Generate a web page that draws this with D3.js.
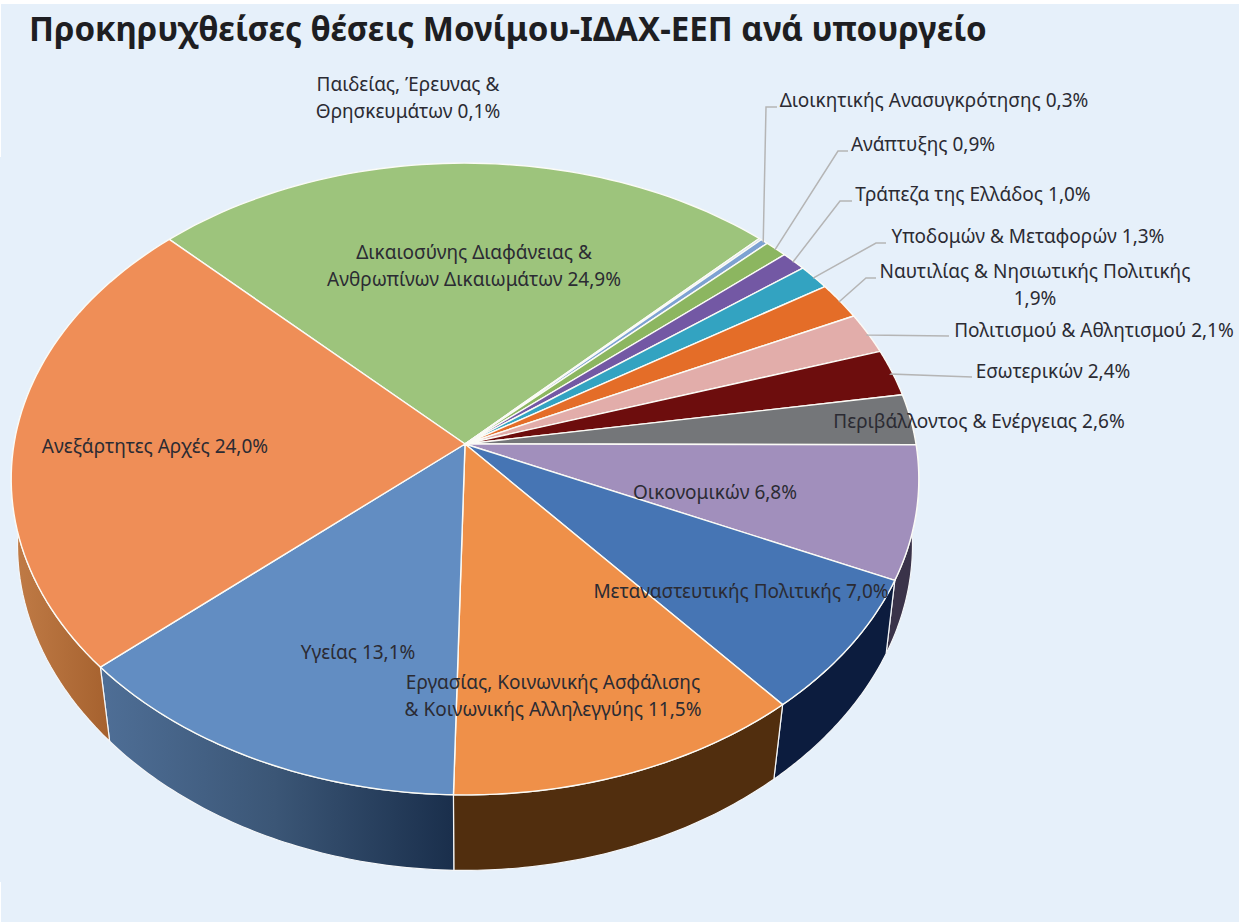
<!DOCTYPE html>
<html lang="el"><head><meta charset="utf-8">
<script src="https://cdnjs.cloudflare.com/ajax/libs/d3/7.8.5/d3.min.js"></script>
<style>html,body{margin:0;padding:0;background:#fff}svg{display:block}
text{font-family:"Noto Sans","Open Sans",sans-serif;fill:#2b2b33}</style></head><body>
<svg id="c" width="1239" height="922"></svg>
<script>
const titleText = "Προκηρυχθείσες θέσεις Μονίμου-ΙΔΑΧ-ΕΕΠ ανά υπουργείο";
const categories = ["Δικαιοσύνης Διαφάνειας & Ανθρωπίνων Δικαιωμάτων","Παιδείας, Έρευνας & Θρησκευμάτων","Διοικητικής Ανασυγκρότησης","Ανάπτυξης","Τράπεζα της Ελλάδος","Υποδομών & Μεταφορών","Ναυτιλίας & Νησιωτικής Πολιτικής","Πολιτισμού & Αθλητισμού","Εσωτερικών","Περιβάλλοντος & Ενέργειας","Οικονομικών","Μεταναστευτικής Πολιτικής","Εργασίας, Κοινωνικής Ασφάλισης & Κοινωνικής Αλληλεγγύης","Υγείας","Ανεξάρτητες Αρχές"];
const values = [24.9,0.1,0.3,0.9,1.0,1.3,1.9,2.1,2.4,2.6,6.8,7.0,11.5,13.1,24.0];
const topColors = ["#9dc47c","#d5dce8","#7da2d2","#8cb660","#7358a4","#33a3c1","#e46d28","#e2adaa","#6d0d0d","#747679","#a18fbc","#4675b4","#ef9049","#628dc2","#ef8e57"];
const wallColors = {10:"#3a3349",11:"#0c1c3e",12:"#512e0e"};
const labelLines = [["Δικαιοσύνης Διαφάνειας &","Ανθρωπίνων Δικαιωμάτων 24,9%"],["Παιδείας, Έρευνας &","Θρησκευμάτων 0,1%"],["Διοικητικής Ανασυγκρότησης 0,3%"],["Ανάπτυξης 0,9%"],["Τράπεζα της Ελλάδος 1,0%"],["Υποδομών & Μεταφορών 1,3%"],["Ναυτιλίας & Νησιωτικής Πολιτικής","1,9%"],["Πολιτισμού & Αθλητισμού 2,1%"],["Εσωτερικών 2,4%"],["Περιβάλλοντος & Ενέργειας 2,6%"],["Οικονομικών 6,8%"],["Μεταναστευτικής Πολιτικής 7,0%"],["Εργασίας, Κοινωνικής Ασφάλισης","& Κοινωνικής Αλληλεγγύης 11,5%"],["Υγείας 13,1%"],["Ανεξάρτητες Αρχές 24,0%"]];
// label placement: centre x, centre y of the first line
const labelX = [474,408,934,923,973,1028,1035,1094,1053,979,715,741,553,358,155];
const labelY = [252,84,100,144,194,236,271,330,371,421,492,591,682,652,446];
// leader elbows: [label end, elbow] per category index; the pie end is projected from the slice
const leaders = {2:[[777,107],[766,107]],3:[[848,151],[838,151]],4:[[852,201],[840,201]],5:[[886,243],[876,243]],6:[[876,278],[866,278]],7:[[949,336],[867,335]],8:[[972,377],[891,374]]};

const svg = d3.select("#c");
svg.append("rect").attr("x",1).attr("y",4).attr("width",1238).attr("height",918).attr("fill","#e6f0fa");
svg.append("rect").attr("x",0).attr("y",157).attr("width",2).attr("height",725).attr("fill","#e6f0fa");

// perspective projection of the pie disc and of its lower rim
const cx=465, cy=444, A=451, B=312, k=0.1108;
const proj = a => { const X=Math.sin(a), Y=-Math.cos(a), w=1-k*Y; return [cx+A*X/w, cy+B*Y/w]; };
const under = p => { const r=p[1]-cy, s=0.988-0.00006*r; return [cx+(p[0]-cx)*s, p[1]+72+0.01*r]; };
const arcs = d3.pie().sort(null).startAngle(-Math.PI/4).endAngle(Math.PI*7/4)(values);
const rim = d => d3.range(0,61).map(i=>proj(d.startAngle+(d.endAngle-d.startAngle)*i/60));
const line = d3.line();

const defs = svg.append("defs");
function grad(id,x1,x2,stops){const g=defs.append("linearGradient").attr("id",id).attr("gradientUnits","userSpaceOnUse").attr("x1",x1).attr("x2",x2).attr("y1",0).attr("y2",0);
 stops.forEach(s=>g.append("stop").attr("offset",s[0]).attr("stop-color",s[1]));}
grad("wHealth",97,452,[[0,"#4f6f97"],[.5,"#3b5676"],[1,"#1a2f4c"]]);
grad("wIndep",18,107,[[0,"#bf7a45"],[1,"#a6622f"]]);
const wallFill = i => i===13?"url(#wHealth)":i===14?"url(#wIndep)":wallColors[i];

svg.append("g").selectAll("path").data(arcs.map((d,i)=>({d,i})).filter(o=>o.i>=10)).join("path")
  .attr("d",o=>{const r=rim(o.d);return line(r.concat(r.map(under).reverse()))+"Z";})
  .attr("fill",o=>wallFill(o.i)).attr("stroke","#f4f6f8").attr("stroke-width",1.2).attr("stroke-linejoin","round");

svg.append("g").selectAll("path").data(arcs).join("path")
  .attr("d",d=>line([[cx,cy]].concat(rim(d)))+"Z")
  .attr("fill",(d,i)=>topColors[i]).attr("stroke","#fbfbf6").attr("stroke-width",1.4).attr("stroke-linejoin","round");

svg.append("g").selectAll("path").data(Object.keys(leaders).map(Number)).join("path")
  .attr("d",i=>{const a=(arcs[i].startAngle+arcs[i].endAngle)/2,p=proj(a);return line([leaders[i][0],leaders[i][1],[p[0]-1,p[1]+1]]);})
  .attr("fill","none").attr("stroke","#b5b5b5").attr("stroke-width",1.5);

const lab = svg.append("g").selectAll("text").data(labelLines).join("text")
  .attr("text-anchor","middle").attr("font-size",19);
lab.each(function(lines,i){d3.select(this).selectAll("tspan").data(lines).join("tspan")
  .attr("x",labelX[i]).attr("y",(l,j)=>labelY[i]+j*27.5+6.5).text(l=>l);});

svg.append("text").attr("x",29).attr("y",41).attr("font-size",33.1).attr("font-weight",700).style("fill","#1e1e22").text(titleText);
</script></body></html>
